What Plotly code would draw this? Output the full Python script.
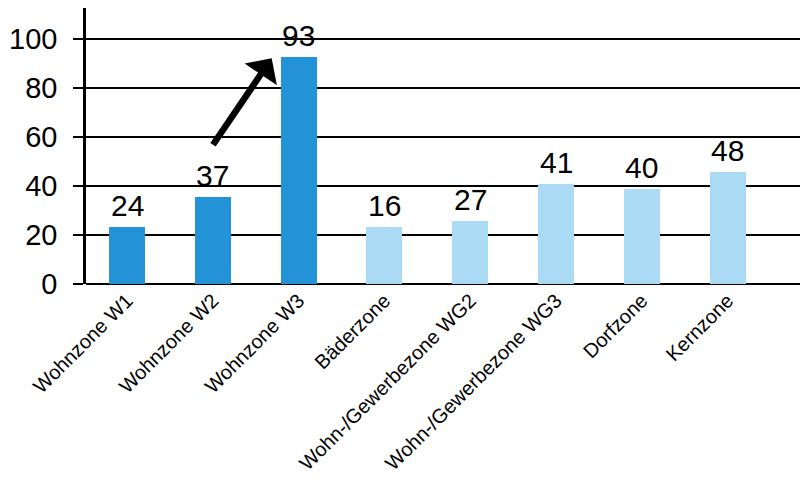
import plotly.graph_objects as go

categories = ["Wohnzone W1", "Wohnzone W2", "Wohnzone W3", "Bäderzone",
              "Wohn-/Gewerbezone WG2", "Wohn-/Gewerbezone WG3", "Dorfzone", "Kernzone"]
bar_heights = [23.1, 35.4, 92.8, 23.1, 25.8, 40.9, 38.9, 45.8]
value_labels = ["24", "37", "93", "16", "27", "41", "40", "48"]
bar_colors = ["#2392d6", "#2392d6", "#2392d6", "#abdaf4", "#abdaf4", "#abdaf4", "#abdaf4", "#abdaf4"]
y_ticks = [0, 20, 40, 60, 80, 100]

idx = list(range(len(categories)))

fig = go.Figure()
fig.add_trace(go.Bar(
    x=idx, y=bar_heights, width=0.42,
    marker=dict(color=bar_colors, line=dict(width=0)),
    hoverinfo="skip",
))

annotations = []
for i, (h, t) in enumerate(zip(bar_heights, value_labels)):
    annotations.append(dict(
        x=i, y=h, xref="x", yref="y", text=t, showarrow=False,
        yanchor="bottom", xanchor="center", yshift=3,
        font=dict(family="Arial, Liberation Sans", size=30, color="black"),
    ))

# arrow from W2 to W3
annotations.append(dict(
    x=1.686, y=92.1, ax=0.99, ay=56.2, xref="x", yref="y", axref="x", ayref="y",
    text="", showarrow=True, arrowhead=1, arrowsize=1.0, arrowwidth=6.5,
    arrowcolor="black", standoff=0, startstandoff=0,
))

fig.update_layout(
    width=800, height=482,
    margin=dict(l=86, r=0, t=8, b=198, autoexpand=False),
    paper_bgcolor="white", plot_bgcolor="white",
    showlegend=False,
    bargap=0,
    annotations=annotations,
    font=dict(family="Arial, Liberation Sans", color="black"),
)
fig.update_xaxes(
    range=[-0.478, 7.843],
    tickmode="array", tickvals=idx, ticktext=categories,
    tickangle=-45, tickfont=dict(size=20, color="black", family="Arial, Liberation Sans"),
    showgrid=False, zeroline=False, showline=False, ticks="",
    automargin=False,
)
fig.update_yaxes(
    range=[0, 112.6],
    tickmode="array", tickvals=y_ticks,
    tickfont=dict(size=29, color="black", family="Arial, Liberation Sans"),
    showgrid=True, gridcolor="black", gridwidth=2,
    zeroline=True, zerolinecolor="black", zerolinewidth=2,
    showline=True, linecolor="black", linewidth=2.5,
    ticks="outside", ticklen=10, tickwidth=2, tickcolor="black",
    ticklabelstandoff=10,
    automargin=False,
)

fig.write_html("out.html")
